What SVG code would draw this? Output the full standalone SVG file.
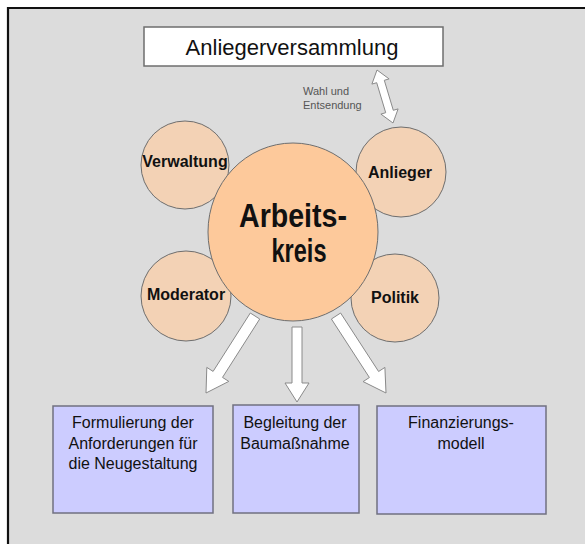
<svg xmlns="http://www.w3.org/2000/svg" width="585" height="544" viewBox="0 0 585 544">
<style>
.sm{fill:#F3D2B5;stroke:#6E6E6E;stroke-width:1}
.big{fill:#FDC99B;stroke:#6E6E6E;stroke-width:1}
.box{fill:#CCCCFF;stroke:#707080;stroke-width:1.5}
.arr{fill:#FFFFFF;stroke:#8A8A8A;stroke-width:1}
.t{font-family:"Liberation Sans",Arial,sans-serif;fill:#111;text-anchor:middle}
.b{font-weight:bold}
</style>
<rect x="0" y="0" width="585" height="544" fill="#FFFFFF"/>
<rect x="8" y="8" width="577" height="536" fill="#DCDCDC"/>
<path d="M8 544 V8 H585" fill="none" stroke="#111" stroke-width="2.2"/>

<g id="anliegerversammlung">
<rect x="144" y="27" width="299" height="39" fill="#FFFFFF" stroke="#6E6E6E" stroke-width="1.5"/>
<text class="t" x="292" y="55" font-size="22">Anliegerversammlung</text>
</g>

<g id="verwaltung">
<circle class="sm" cx="185" cy="165" r="44"/>
<text class="t b" x="185" y="167" font-size="16">Verwaltung</text>
</g>
<g id="anlieger">
<circle class="sm" cx="401" cy="172" r="45"/>
<text class="t b" x="400" y="178" font-size="16">Anlieger</text>
</g>
<g id="moderator">
<circle class="sm" cx="186" cy="296" r="45"/>
<text class="t b" x="186" y="300" font-size="16">Moderator</text>
</g>
<g id="politik">
<circle class="sm" cx="395" cy="298" r="44"/>
<text class="t b" x="395" y="303" font-size="16">Politik</text>
</g>
<g id="arbeitskreis">
<ellipse class="big" cx="293" cy="232" rx="85" ry="89"/>
<text class="t b" x="293" y="227" font-size="33" textLength="108" lengthAdjust="spacingAndGlyphs">Arbeits-</text>
<text class="t b" x="299" y="262" font-size="33" textLength="55" lengthAdjust="spacingAndGlyphs">kreis</text>
</g>

<g id="connectors">
<polygon class="arr" points="377,70 389.1,78.9 384.3,80.3 393.3,110.3 398.1,108.9 393,123 380.9,114.1 385.7,112.7 376.7,82.7 371.9,84.1"/>
<text font-family="Liberation Sans,Arial,sans-serif" font-size="11" fill="#555"><tspan x="303" y="95">Wahl und</tspan><tspan x="303" y="109">Entsendung</tspan></text>
<polygon class="arr" points="259.7,319 222.5,377.4 228.8,381.4 206,393 206.8,367.4 213.1,371.4 250.3,313"/>
<polygon class="arr" points="302,327 302,383 309,383 297,402 285,383 292,383 292,327"/>
<polygon class="arr" points="331.4,319 369.4,377.5 363.1,381.6 386,393 384.9,367.4 378.6,371.5 340.6,313"/>
</g>

<g id="formulierung">
<rect class="box" x="53" y="406" width="160" height="107"/>
<text class="t" font-size="16"><tspan x="133" y="428">Formulierung der</tspan><tspan x="133" y="448.5">Anforderungen für</tspan><tspan x="133" y="469">die Neugestaltung</tspan></text>
</g>
<g id="begleitung">
<rect class="box" x="233" y="405" width="126" height="108"/>
<text class="t" font-size="16"><tspan x="295" y="428">Begleitung der</tspan><tspan x="295" y="448.5">Baumaßnahme</tspan></text>
</g>
<g id="finanzierung">
<rect class="box" x="377" y="406" width="169" height="108"/>
<text class="t" font-size="16"><tspan x="461" y="428">Finanzierungs-</tspan><tspan x="461" y="448.5">modell</tspan></text>
</g>
</svg>
